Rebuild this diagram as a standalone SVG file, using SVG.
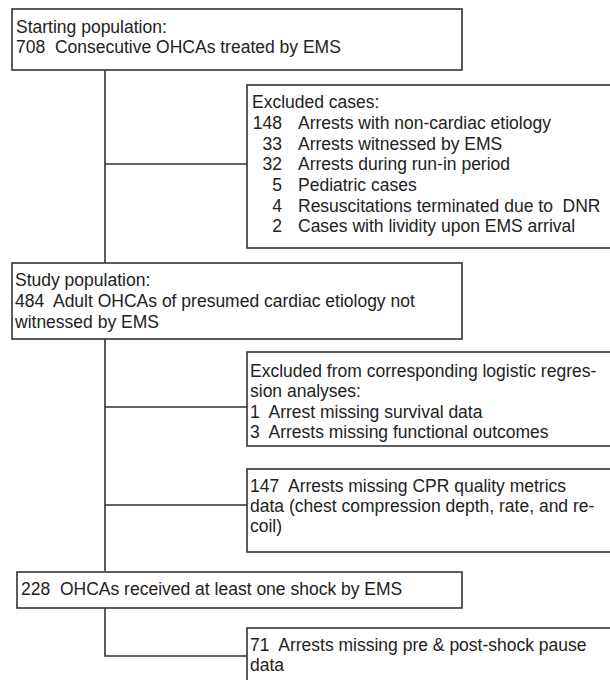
<svg xmlns="http://www.w3.org/2000/svg" width="610" height="680" viewBox="0 0 610 680">
<style>
.box{fill:#fff;stroke:#333;stroke-width:1.6}
.ln{fill:none;stroke:#333;stroke-width:1.6}
text{font-family:"Liberation Sans",Arial,sans-serif;font-size:17.5px;fill:#222;white-space:pre}
.n{text-anchor:end}
</style>
<rect width="610" height="680" fill="#fff"/>
<g id="connectors">
<path class="ln" d="M105,70 V263 M105,164 H247"/>
<path class="ln" d="M105,339 V571 M105,407 H247 M105,505 H247"/>
<path class="ln" d="M105,608 V656 H247"/>
</g>
<g id="start">
<rect class="box" x="12" y="9" width="450" height="61"/>
<text x="16" y="33">Starting population:</text>
<text x="16" y="53" xml:space="preserve">708  Consecutive OHCAs treated by EMS</text>
</g>
<g id="excluded1">
<rect class="box" x="247" y="85" width="370" height="163"/>
<text x="252" y="108">Excluded cases:</text>
<text class="n" x="282" y="129">148</text><text x="298" y="129">Arrests with non-cardiac etiology</text>
<text class="n" x="282" y="150">33</text><text x="298" y="150">Arrests witnessed by EMS</text>
<text class="n" x="282" y="170">32</text><text x="298" y="170">Arrests during run-in period</text>
<text class="n" x="282" y="191">5</text><text x="298" y="191">Pediatric cases</text>
<text class="n" x="282" y="212">4</text><text x="298" y="212" xml:space="preserve">Resuscitations terminated due to  DNR</text>
<text class="n" x="282" y="232">2</text><text x="298" y="232">Cases with lividity upon EMS arrival</text>
</g>
<g id="study">
<rect class="box" x="12" y="263" width="450" height="76"/>
<text x="15" y="286">Study population:</text>
<text x="15" y="307" xml:space="preserve">484  Adult OHCAs of presumed cardiac etiology not</text>
<text x="15" y="328">witnessed by EMS</text>
</g>
<g id="excluded2">
<rect class="box" x="247" y="352" width="370" height="94"/>
<text x="250" y="377">Excluded from corresponding logistic regres-</text>
<text x="250" y="397">sion analyses:</text>
<text x="250" y="418" xml:space="preserve">1  Arrest missing survival data</text>
<text x="250" y="438" xml:space="preserve">3  Arrests missing functional outcomes</text>
</g>
<g id="excluded3">
<rect class="box" x="247" y="469" width="370" height="83"/>
<text x="250" y="492" xml:space="preserve">147  Arrests missing CPR quality metrics</text>
<text x="250" y="512">data (chest compression depth, rate, and re-</text>
<text x="250" y="532">coil)</text>
</g>
<g id="shock">
<rect class="box" x="17" y="572" width="445" height="36"/>
<text x="21" y="595" xml:space="preserve">228  OHCAs received at least one shock by EMS</text>
</g>
<g id="excluded4">
<rect class="box" x="247" y="628" width="370" height="70"/>
<text x="250" y="651" xml:space="preserve">71  Arrests missing pre &amp; post-shock pause</text>
<text x="250" y="671">data</text>
</g>
</svg>
